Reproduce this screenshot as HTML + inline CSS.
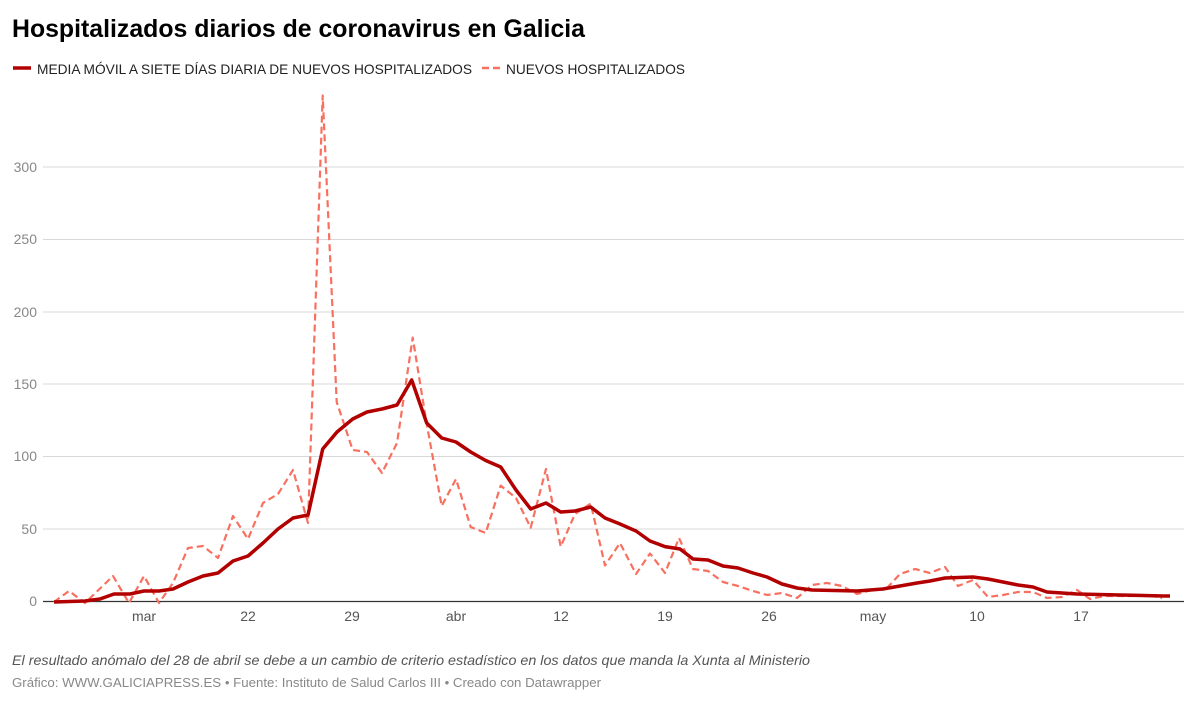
<!DOCTYPE html>
<html><head><meta charset="utf-8"><style>
body{margin:0;background:#fff;width:1199px;height:709px;overflow:hidden;font-family:"Liberation Sans",sans-serif}
svg{position:absolute;left:0;top:0}
</style></head><body>
<svg width="1199" height="709" viewBox="0 0 1199 709" font-family="Liberation Sans, sans-serif">
<text x="12" y="37" font-size="25" font-weight="bold" fill="#000" textLength="573" lengthAdjust="spacingAndGlyphs">Hospitalizados diarios de coronavirus en Galicia</text>
<line x1="13" y1="68" x2="31" y2="68" stroke="#b20000" stroke-width="3.5"/>
<text x="37" y="74" font-size="14" fill="#222" textLength="435" lengthAdjust="spacingAndGlyphs">MEDIA MÓVIL A SIETE DÍAS DIARIA DE NUEVOS HOSPITALIZADOS</text>
<line x1="482" y1="68" x2="500" y2="68" stroke="#f87060" stroke-width="2.5" stroke-dasharray="7,4"/>
<text x="506" y="74" font-size="14" fill="#222" textLength="179" lengthAdjust="spacingAndGlyphs">NUEVOS HOSPITALIZADOS</text>
<g stroke="#d8d8d8" stroke-width="1">
<line x1="43" y1="167" x2="1184" y2="167"/><line x1="43" y1="239.5" x2="1184" y2="239.5"/>
<line x1="43" y1="312" x2="1184" y2="312"/><line x1="43" y1="384" x2="1184" y2="384"/>
<line x1="43" y1="456.5" x2="1184" y2="456.5"/><line x1="43" y1="529" x2="1184" y2="529"/>
</g>
<line x1="43" y1="601.5" x2="1184" y2="601.5" stroke="#333" stroke-width="1.3"/>
<g font-size="14" fill="#888" text-anchor="end">
<text x="37" y="172">300</text><text x="37" y="244">250</text><text x="37" y="317">200</text>
<text x="37" y="389">150</text><text x="37" y="461">100</text><text x="37" y="534">50</text><text x="37" y="606">0</text>
</g>
<g font-size="14" fill="#555" text-anchor="middle">
<text x="144" y="621">mar</text><text x="248" y="621">22</text><text x="352" y="621">29</text>
<text x="456" y="621">abr</text><text x="561" y="621">12</text><text x="665" y="621">19</text>
<text x="769" y="621">26</text><text x="873" y="621">may</text><text x="977" y="621">10</text><text x="1081" y="621">17</text>
</g>
<polyline fill="none" stroke="#f87060" stroke-width="2.2" stroke-dasharray="7,4" stroke-linejoin="round" points="54,602 69,591 85,603 113,576 129,603 144,576 159,603 173,583 188,548 203,546 218,558 233,516 248,539 263,503 278,494 293,470 308,523 322.7,95.5 336.7,402 352.7,450 367,452 382,473 397,443 412.7,337.6 426.7,424 441.7,506 456,479 470.7,527 485.7,533 500.7,485.6 516,498 530.7,527.6 546,469 560.7,546.6 575,514 590.7,503.6 605,565.5 620,543 636,574 650,553.5 665,573 679,538 693,569 708,571 723,582 738,586 753,591 767,595 782,593 797,598 812,585 827,583 842,586 857,594 872,590 887,588 900,574 915,569 930,573 945,567 958,586 973,580 988,597 1003,595 1018,592 1033,592 1047,598 1062,597 1077,590 1090,599 1105,596 1120,596 1133,596 1148,595 1162,598"/>
<polyline fill="none" stroke="#b20000" stroke-width="3.5" stroke-linejoin="round" points="54,602 85,601 100,599 114,594 130,594 144,591 159,591 173,589 188,582 203,576 218,573 233,561 248,556 263,543 278,529 293,518 308,515 322.7,449 337,432 352.7,419 367,412 382,409 397,405 411.7,380 426.7,423 441.7,438 456,442 470.7,452 485.7,460.5 500.7,467 516,490 530.7,509 546,503 560.7,512 575,511 590.7,507 605,518 620,524 636,531 650,541 665,546.6 680,549 693,559 708,560 723,566 738,568 753,573 767,577 782,584 797,588 812,590 857,591 883,589 900,586 917,583 930,581 945,578 973,577 988,579 1003,582 1018,585 1033,587 1047,592 1077,594 1120,595 1163,596 1170,596"/>
<text x="12" y="665" font-size="14" font-style="italic" fill="#555" textLength="798" lengthAdjust="spacingAndGlyphs">El resultado anómalo del 28 de abril se debe a un cambio de criterio estadístico en los datos que manda la Xunta al Ministerio</text>
<text x="12" y="687" font-size="13" fill="#888" textLength="589" lengthAdjust="spacingAndGlyphs">Gráfico: WWW.GALICIAPRESS.ES • Fuente: Instituto de Salud Carlos III • Creado con Datawrapper</text>
</svg>
</body></html>
